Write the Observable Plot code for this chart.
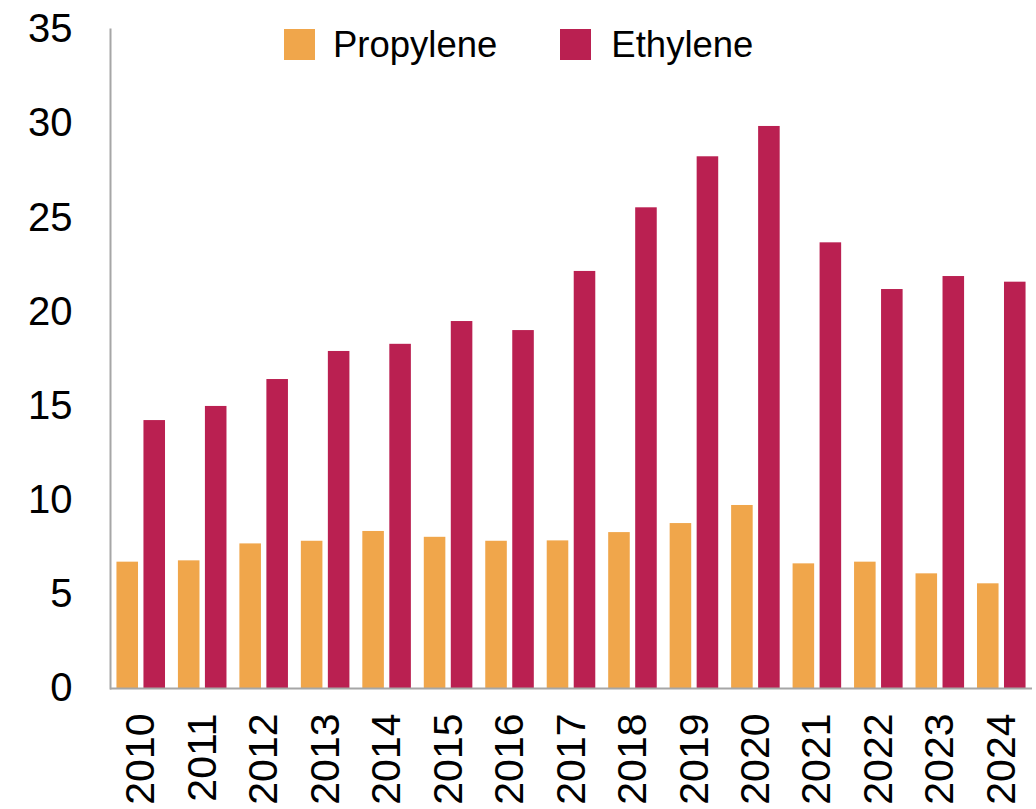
<!DOCTYPE html>
<html>
<head>
<meta charset="utf-8">
<script src="https://cdn.jsdelivr.net/npm/d3@7"></script>
<script src="https://cdn.jsdelivr.net/npm/@observablehq/plot@0.6"></script>
<style>
  html, body { margin: 0; padding: 0; background: #fff; }
  #wrap { position: relative; width: 1036px; height: 809px; font-family: "Liberation Sans", Arial, sans-serif; }
  #legend { position: absolute; left: 284px; top: 29px; display: flex; align-items: center; font-size: 36.5px; color: #000; line-height: 31px; }
  .sw { width: 31px; height: 31px; display: inline-block; }
  .item { display: flex; align-items: center; }
</style>
</head>
<body>
<div id="wrap">
  <div id="chart"></div>
  <div id="legend"></div>
</div>
<script>
const years = ["2010","2011","2012","2013","2014","2015","2016","2017","2018","2019","2020","2021","2022","2023","2024"];
const propylene = [6.71, 6.78, 7.68, 7.82, 8.34, 8.03, 7.82, 7.84, 8.28, 8.76, 9.72, 6.62, 6.71, 6.09, 5.56];
const ethylene  = [14.23, 14.98, 16.41, 17.90, 18.28, 19.49, 19.01, 22.15, 25.53, 28.24, 29.85, 23.67, 21.19, 21.88, 21.58];
const seriesNames = ["Propylene", "Ethylene"];
const seriesColors = ["#F0A64B", "#BA2051"];
const yTicks = [0, 5, 10, 15, 20, 25, 30, 35];

const propData = years.map((y, i) => ({year: y, series: "Propylene", value: propylene[i]}));
const ethData = years.map((y, i) => ({year: y, series: "Ethylene", value: ethylene[i]}));

const barInset = 27;
const font = '"Liberation Sans", Arial, sans-serif';

const chart = Plot.plot({
  width: 1036,
  height: 809,
  marginLeft: 110,
  marginRight: 4,
  marginTop: 29,
  marginBottom: 121,
  style: {fontFamily: font, background: "#fff", color: "#000"},
  x: {type: "band", domain: years, paddingInner: 0.21, paddingOuter: 0.105, round: false, label: null},
  y: {domain: [0, 35], label: null},
  color: {domain: seriesNames, range: seriesColors},
  marks: [
    Plot.barY(propData, {x: "year", y: "value", fill: "series", insetRight: barInset}),
    Plot.barY(ethData, {x: "year", y: "value", fill: "series", insetLeft: barInset}),
    Plot.ruleY([0], {stroke: "#A6A6A6", strokeWidth: 2, strokeOpacity: 1}),
    Plot.frame({anchor: "left", stroke: "#A6A6A6", strokeWidth: 2, strokeOpacity: 1}),
    Plot.axisY({ticks: yTicks, tickSize: 0, tickPadding: 38, fontSize: 40, tickFormat: d => String(d), label: null}),
    Plot.axisX({tickSize: 0, tickPadding: 25, tickRotate: -90, fontSize: 41, label: null})
  ]
});
document.getElementById("chart").appendChild(chart);

const legend = document.getElementById("legend");
seriesNames.forEach((name, i) => {
  const item = document.createElement("div");
  item.className = "item";
  item.style.marginRight = i === 0 ? "63px" : "0";
  const sw = document.createElement("span");
  sw.className = "sw";
  sw.style.background = seriesColors[i];
  const label = document.createElement("span");
  label.textContent = name;
  label.style.marginLeft = i === 0 ? "18px" : "20px";
  item.appendChild(sw);
  item.appendChild(label);
  legend.appendChild(item);
});
</script>
</body>
</html>
